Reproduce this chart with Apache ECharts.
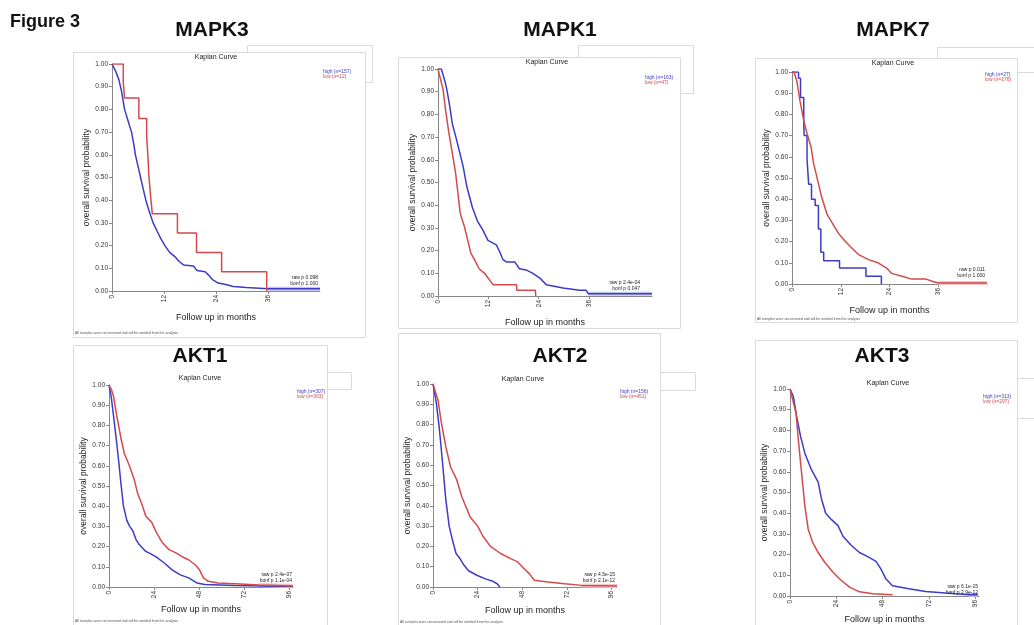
<!DOCTYPE html>
<html>
<head>
<meta charset="utf-8">
<script src="https://cdn.jsdelivr.net/npm/echarts@6/dist/echarts.min.js"></script>
<style>
  html, body { margin: 0; background: #fff; }
  #main { width: 1034px; height: 625px; }
</style>
</head>
<body>
<div id="main"></div>
<script>
// curves: [months, survival probability]
const mapk3High = [[0,1],[0.8,0.97],[1.6,0.93],[2.2,0.88],[2.9,0.80],[3.7,0.75],[4.5,0.70],[5.0,0.65],[5.4,0.60],[6.0,0.55],[6.6,0.50],[7.2,0.45],[7.8,0.40],[8.6,0.35],[9.5,0.30],[10.5,0.26],[11.3,0.23],[12.2,0.20],[13.3,0.17],[14.6,0.15],[15.5,0.13],[16.5,0.115],[18.8,0.11],[19.6,0.09],[21.5,0.085],[22.3,0.07],[23.2,0.05],[24.5,0.035],[26,0.03],[28,0.02],[31,0.015],[36,0.01],[48,0.01]];
const mapk3Low = [[0,1],[2.6,0.92],[2.9,0.85],[6.2,0.76],[8.0,0.68],[8.3,0.59],[8.5,0.51],[8.9,0.42],[9.3,0.34],[15.1,0.255],[19.5,0.17],[25.3,0.085],[35.7,0]];

const mapk1High = [[0,1],[0.8,1],[1.6,0.95],[2.1,0.91],[2.8,0.835],[3.4,0.76],[4.4,0.69],[5.2,0.63],[6.0,0.57],[6.9,0.48],[8.2,0.39],[9.4,0.33],[10.7,0.29],[11.9,0.245],[13.9,0.225],[14.7,0.195],[15.5,0.16],[16.3,0.15],[18.3,0.15],[19.4,0.12],[21,0.115],[22.6,0.10],[24.2,0.08],[25.8,0.05],[29.8,0.035],[33.7,0.025],[35.3,0.025],[35.8,0.01],[51,0.01]];
const mapk1Low = [[0,1],[0.4,0.97],[1.2,0.91],[1.8,0.82],[2.5,0.73],[3.4,0.63],[4.2,0.54],[4.8,0.445],[5.3,0.365],[6.3,0.305],[7.1,0.245],[7.8,0.19],[8.7,0.16],[9.8,0.12],[11.1,0.10],[12.3,0.07],[13.1,0.05],[18.7,0.05],[18.8,0.025],[23.2,0.025],[23.3,0]];

const mapk7High = [[0,1],[1.6,0.97],[2.1,0.88],[2.9,0.74],[3.0,0.70],[3.7,0.59],[4.1,0.47],[4.8,0.40],[5.7,0.37],[6.5,0.26],[7.1,0.15],[7.8,0.11],[11.7,0.075],[18.2,0.037],[22.0,0]];
const mapk7Low = [[0,1],[0.5,1],[1.2,0.956],[2.0,0.86],[2.9,0.77],[3.7,0.71],[4.7,0.645],[5.3,0.57],[6.3,0.49],[7.3,0.41],[8.6,0.33],[10.0,0.285],[11.4,0.24],[12.7,0.21],[14.7,0.17],[16.3,0.14],[18.8,0.115],[21.2,0.10],[23.3,0.075],[24.5,0.05],[27.3,0.035],[29.4,0.023],[33,0.023],[34.7,0.012],[36,0.005],[48,0.005]];

const akt1High = [[0,1],[1.2,0.94],[2.5,0.84],[3.9,0.73],[5.3,0.61],[6.5,0.50],[7.7,0.40],[9.5,0.33],[11,0.30],[12.6,0.28],[14.4,0.235],[16.1,0.21],[19.6,0.176],[22,0.165],[24.9,0.15],[29.3,0.12],[33.6,0.085],[38,0.06],[42.4,0.045],[46.8,0.02],[51,0.012],[67,0.007],[98,0.003]];
const akt1Low = [[0,1],[1.2,0.98],[2.5,0.94],[3.9,0.86],[5.3,0.79],[6.5,0.73],[8.2,0.66],[10.9,0.60],[13.5,0.53],[15.2,0.465],[17.9,0.40],[19.6,0.35],[22.8,0.32],[25.2,0.27],[28.4,0.22],[31.9,0.185],[35.4,0.17],[38.9,0.15],[42.4,0.135],[45.9,0.11],[48.2,0.085],[50.3,0.045],[52.9,0.028],[58,0.02],[70,0.015],[80,0.01],[98,0.005]];

const akt2High = [[0,1],[1.8,0.906],[3.3,0.79],[4.5,0.675],[5.8,0.545],[6.9,0.43],[8.7,0.30],[10.5,0.23],[12.4,0.165],[14.5,0.14],[16.7,0.107],[19.1,0.08],[23.6,0.058],[28.2,0.04],[31.8,0.03],[34.5,0.016],[36,0]];
const akt2Low = [[0,1],[2.7,0.92],[4.5,0.81],[6.9,0.69],[9.5,0.59],[12.7,0.53],[15.5,0.445],[20,0.345],[24,0.30],[26.9,0.25],[30.9,0.20],[36.4,0.165],[41.8,0.14],[45.5,0.124],[49,0.09],[51.8,0.066],[54.5,0.033],[61.8,0.025],[70.9,0.016],[80,0.008],[99,0.005]];

const akt3High = [[0,1],[1.7,0.965],[3.4,0.87],[5.5,0.77],[7.7,0.69],[11.1,0.61],[14.6,0.55],[16.3,0.47],[18.5,0.40],[21.4,0.37],[24.9,0.34],[27.4,0.29],[31.7,0.245],[36,0.21],[40.3,0.19],[44.6,0.167],[47.2,0.13],[49.7,0.083],[53.1,0.05],[61.7,0.035],[70.3,0.022],[80.6,0.014],[92.6,0.006],[97.4,0.006]];
const akt3Low = [[0,1],[3.1,0.885],[4.3,0.756],[6,0.596],[7.7,0.436],[9.4,0.324],[11.7,0.26],[14.6,0.21],[18,0.163],[22.3,0.115],[26.6,0.075],[30.9,0.043],[36,0.02],[42.9,0.011],[53.2,0.006]];

const mapkTicks = [0, 12, 24, 36];
const aktTicks = [0, 24, 48, 72, 96];

const genes = ['MAPK3', 'MAPK1', 'MAPK7', 'AKT1', 'AKT2', 'AKT3'];
const highLabels = ['high (n=157)', 'high (n=163)', 'high (n=27)', 'high (n=307)', 'high (n=156)', 'high (n=313)'];
const lowLabels = ['low (n=12)', 'low (n=47)', 'low (n=176)', 'low (n=303)', 'low (n=451)', 'low (n=297)'];
const rawP = ['raw p 0.098', 'raw p 2.4e-04', 'raw p 0.011', 'raw p 2.4e-07', 'raw p 4.5e-15', 'raw p 6.1e-15'];
const bonfP = ['bonf p 1.000', 'bonf p 0.047', 'bonf p 1.000', 'bonf p 1.1e-04', 'bonf p 2.1e-12', 'bonf p 2.9e-12'];

const FONT = '"Liberation Sans", Arial, sans-serif';
const BLUE = '#3c3cc8';
const RED = '#d44a4a';

// layout of each panel on the page
const panels = [
  { high: mapk3High, low: mapk3Low, ticks: mapkTicks, xMax: 48, lowStep: true, tail: 'high',
    grid: { left: 112, top: 64, width: 208, height: 227 }, gapX: 22,
    box: [73, 52, 292, 285], lbox: [247, 45, 125, 37], title: [212, 30], kap: [216, 57], leg: [323, 72], pv: [318, 278], foot: [75, 333] },
  { high: mapk1High, low: mapk1Low, ticks: mapkTicks, xMax: 51, tail: 'high',
    grid: { left: 438, top: 69, width: 214, height: 227 }, gapX: 22,
    box: [398, 57, 282, 271], lbox: [578, 45, 115, 48], title: [560, 30], kap: [547, 62], leg: [645, 78], pv: [640, 283], foot: null },
  { high: mapk7High, low: mapk7Low, ticks: mapkTicks, xMax: 48, highStep: true, tail: 'low',
    grid: { left: 792, top: 72, width: 195, height: 212 }, gapX: 22,
    box: [755, 58, 262, 264], lbox: [937, 47, 97, 25], title: [893, 30], kap: [893, 63], leg: [985, 75], pv: [985, 270], foot: [757, 319] },
  { high: akt1High, low: akt1Low, ticks: aktTicks, xMax: 98, tail: 'low',
    grid: { left: 109, top: 385, width: 184, height: 202 }, gapX: 18,
    box: [73, 345, 254, 280], lbox: [327, 372, 24, 17], title: [200, 356], kap: [200, 378], leg: [297, 392], pv: [292, 575], foot: [75, 621] },
  { high: akt2High, low: akt2Low, ticks: aktTicks, xMax: 99, tail: 'low',
    grid: { left: 433, top: 384, width: 184, height: 203 }, gapX: 19,
    box: [398, 333, 262, 292], lbox: [652, 372, 43, 18], title: [560, 356], kap: [523, 379], leg: [620, 392], pv: [615, 575], foot: [400, 622] },
  { high: akt3High, low: akt3Low, ticks: aktTicks, xMax: 98, tail: 'high',
    grid: { left: 790, top: 389, width: 189, height: 208 }, gapX: 19,
    box: [755, 340, 262, 285], lbox: [1017, 378, 17, 40], title: [882, 356], kap: [888, 383], leg: [983, 397], pv: [978, 587], foot: null }
];

const chart = echarts.init(document.getElementById('main'));

const grids = [], xAxes = [], yAxes = [], series = [], graphics = [];

function txt(x, y, text, font, fill, align, vAlign) {
  return {
    type: 'text', z: 10,
    style: { x: x, y: y, text: text, font: font, fill: fill || '#111',
      align: align || 'center', verticalAlign: vAlign || 'middle',
      textAlign: align || 'center', textVerticalAlign: vAlign || 'middle' }
  };
}

function rect(b, z2) {
  return {
    type: 'rect', z: -5, z2: z2,
    shape: { x: b[0] + 0.5, y: b[1] + 0.5, width: b[2], height: b[3] },
    style: { fill: '#fff', stroke: '#dadada', lineWidth: 1 }
  };
}

graphics.push(txt(10, 22, 'Figure 3', 'bold 18px ' + FONT, '#111', 'left'));

panels.forEach((p, i) => {
  grids.push(p.grid);

  xAxes.push({
    gridIndex: i, type: 'value', min: 0, max: p.xMax,
    name: 'Follow up in months', nameLocation: 'middle', nameGap: p.gapX,
    nameTextStyle: { fontSize: 9, color: '#222', fontFamily: FONT },
    axisLine: { lineStyle: { color: '#888' } },
    axisTick: { length: 3, customValues: p.ticks, lineStyle: { color: '#888' } },
    axisLabel: { customValues: p.ticks, rotate: 90, fontSize: 6.5, color: '#333', margin: 4, fontFamily: FONT },
    splitLine: { show: false }
  });

  yAxes.push({
    gridIndex: i, type: 'value', min: 0, max: 1, interval: 0.1,
    name: 'overall survival probability', nameLocation: 'middle', nameGap: 20,
    nameTextStyle: { fontSize: 8.5, color: '#222', fontFamily: FONT },
    axisLine: { show: true, lineStyle: { color: '#888' } },
    axisTick: { show: true, length: 3, lineStyle: { color: '#888' } },
    axisLabel: { formatter: v => v.toFixed(2), fontSize: 6.5, color: '#333', margin: 4, fontFamily: FONT },
    splitLine: { show: false }
  });

  // light band on the long flat tail
  const tailData = p.tail === 'high' ? p.high.slice(-2) : p.low.slice(-2);
  series.push({
    type: 'line', xAxisIndex: i, yAxisIndex: i, data: tailData, showSymbol: false, silent: true,
    lineStyle: { width: 4, color: p.tail === 'high' ? '#c4c4f2' : '#f2c4c4' }, z: 1
  });

  series.push({
    name: highLabels[i], type: 'line', xAxisIndex: i, yAxisIndex: i, data: p.high,
    showSymbol: false, step: p.highStep ? 'end' : false,
    lineStyle: { width: 1.5, color: BLUE }, itemStyle: { color: BLUE }
  });
  series.push({
    name: lowLabels[i], type: 'line', xAxisIndex: i, yAxisIndex: i, data: p.low,
    showSymbol: false, step: p.lowStep ? 'end' : false,
    lineStyle: { width: 1.5, color: RED }, itemStyle: { color: RED }
  });

  graphics.push(rect(p.lbox, 0));
  graphics.push(rect(p.box, 1));
  graphics.push(txt(p.title[0], p.title[1], genes[i], 'bold 21px ' + FONT, '#111'));
  graphics.push(txt(p.kap[0], p.kap[1], 'Kaplan Curve', '7px ' + FONT, '#222'));
  graphics.push(txt(p.leg[0], p.leg[1], highLabels[i], '5px ' + FONT, BLUE, 'left'));
  graphics.push(txt(p.leg[0], p.leg[1] + 5, lowLabels[i], '5px ' + FONT, RED, 'left'));
  graphics.push(txt(p.pv[0], p.pv[1], rawP[i], '5px ' + FONT, '#222', 'right'));
  graphics.push(txt(p.pv[0], p.pv[1] + 6, bonfP[i], '5px ' + FONT, '#222', 'right'));
  if (p.foot) {
    graphics.push(txt(p.foot[0], p.foot[1], 'All samples were uncensored and will be omitted from the analysis', '3.5px ' + FONT, '#555', 'left'));
  }
});

chart.setOption({
  backgroundColor: '#fff',
  animation: false,
  grid: grids,
  xAxis: xAxes,
  yAxis: yAxes,
  series: series,
  graphic: graphics
});
</script>
</body>
</html>
